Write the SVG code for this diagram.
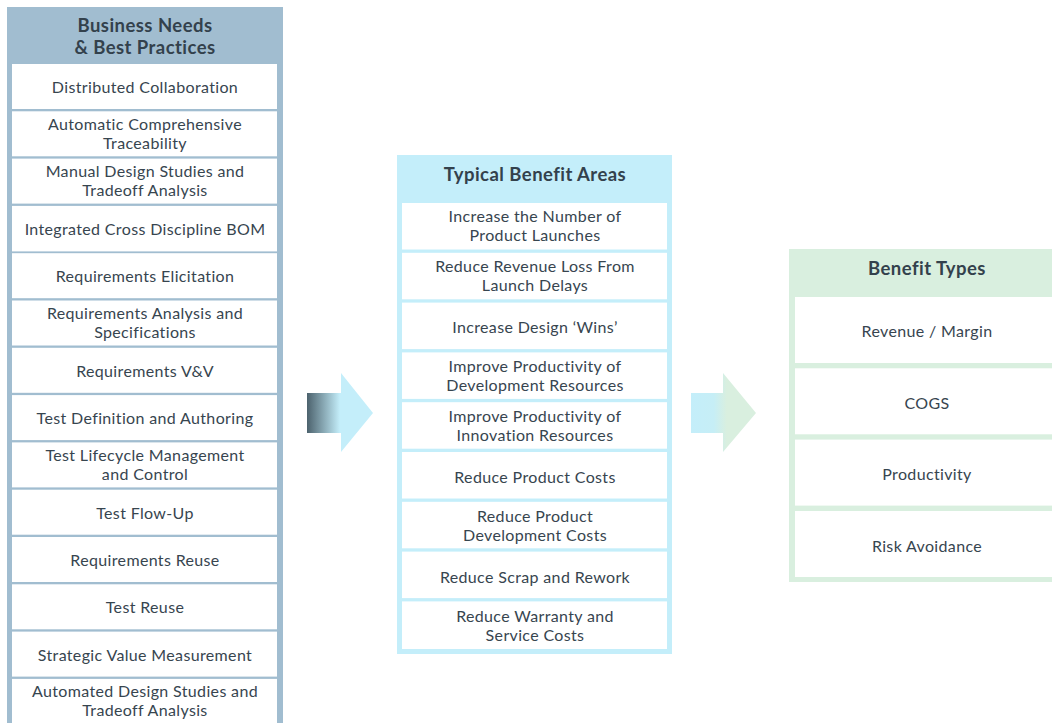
<svg xmlns="http://www.w3.org/2000/svg" width="1052" height="723" viewBox="0 0 1052 723">
<style>
.t{font-family:Lato,"Open Sans","Liberation Sans",sans-serif;font-size:16px;letter-spacing:0.35px;fill:#37454f;text-anchor:middle}
.h{font-family:Lato,"Open Sans","Liberation Sans",sans-serif;font-size:18.5px;letter-spacing:0.45px;font-weight:bold;fill:#33414c;text-anchor:middle}
.b{fill:#ffffff}
</style>
<defs>
<linearGradient id="g1" x1="307" y1="0" x2="373" y2="0" gradientUnits="userSpaceOnUse">
<stop offset="0" stop-color="#4c626d"/>
<stop offset="0.5" stop-color="#c4eefa"/>
<stop offset="1" stop-color="#c4eefa"/>
</linearGradient>
<linearGradient id="g2" x1="691" y1="0" x2="756" y2="0" gradientUnits="userSpaceOnUse">
<stop offset="0" stop-color="#c4eefa"/>
<stop offset="0.35" stop-color="#c6eef6"/>
<stop offset="0.55" stop-color="#d9efdf"/>
<stop offset="1" stop-color="#d9efdf"/>
</linearGradient>
</defs>
<rect width="1052" height="723" fill="#ffffff"/>
<g id="connectors">
<path d="M307,393 H341 V373 L373,413 L341,452 V433 H307 Z" fill="url(#g1)"/>
<path d="M691,393 H723 V373 L756,413 L723,452 V433 H691 Z" fill="url(#g2)"/>
</g>
<g id="business-needs">
<rect x="7" y="7" width="276" height="730" fill="#a1bdd0"/>
<text class="h" x="145" y="31.5">Business Needs</text>
<text class="h" x="145" y="54">&amp; Best Practices</text>
<rect class="b" x="12" y="64" width="265" height="45"/>
<text class="t" x="145" y="92.5">Distributed Collaboration</text>
<rect class="b" x="12" y="111.3" width="265" height="45"/>
<text class="t" x="145" y="130">Automatic Comprehensive</text>
<text class="t" x="145" y="149.4">Traceability</text>
<rect class="b" x="12" y="158.6" width="265" height="45"/>
<text class="t" x="145" y="177">Manual Design Studies and</text>
<text class="t" x="145" y="196.4">Tradeoff Analysis</text>
<rect class="b" x="12" y="205.9" width="265" height="45.5"/>
<text class="t" x="145" y="234.5">Integrated Cross Discipline BOM</text>
<rect class="b" x="12" y="253.2" width="265" height="45"/>
<text class="t" x="145" y="281.5">Requirements Elicitation</text>
<rect class="b" x="12" y="300.5" width="265" height="45"/>
<text class="t" x="145" y="319">Requirements Analysis and</text>
<text class="t" x="145" y="338.4">Specifications</text>
<rect class="b" x="12" y="347.8" width="265" height="45"/>
<text class="t" x="145" y="376.5">Requirements V&amp;V</text>
<rect class="b" x="12" y="395.1" width="265" height="45"/>
<text class="t" x="145" y="423.5">Test Definition and Authoring</text>
<rect class="b" x="12" y="442.4" width="265" height="45"/>
<text class="t" x="145" y="461">Test Lifecycle Management</text>
<text class="t" x="145" y="480.4">and Control</text>
<rect class="b" x="12" y="489.7" width="265" height="45"/>
<text class="t" x="145" y="518.5">Test Flow-Up</text>
<rect class="b" x="12" y="537" width="265" height="45"/>
<text class="t" x="145" y="565.5">Requirements Reuse</text>
<rect class="b" x="12" y="584.3" width="265" height="45"/>
<text class="t" x="145" y="612.5">Test Reuse</text>
<rect class="b" x="12" y="631.6" width="265" height="45"/>
<text class="t" x="145" y="660.5">Strategic Value Measurement</text>
<rect class="b" x="12" y="678.9" width="265" height="50"/>
<text class="t" x="145" y="697">Automated Design Studies and</text>
<text class="t" x="145" y="716.4">Tradeoff Analysis</text>
</g>
<g id="benefit-areas">
<rect x="397" y="155" width="275" height="499" fill="#c4eefa"/>
<text class="h" x="535" y="180.5">Typical Benefit Areas</text>
<rect class="b" x="402" y="203" width="265" height="46.5"/>
<text class="t" x="535" y="222">Increase the Number of</text>
<text class="t" x="535" y="241.4">Product Launches</text>
<rect class="b" x="402" y="252.8" width="265" height="46.5"/>
<text class="t" x="535" y="272">Reduce Revenue Loss From</text>
<text class="t" x="535" y="291.4">Launch Delays</text>
<rect class="b" x="402" y="302.6" width="265" height="46.5"/>
<text class="t" x="535" y="332.5">Increase Design ‘Wins’</text>
<rect class="b" x="402" y="352.4" width="265" height="46.5"/>
<text class="t" x="535" y="372">Improve Productivity of</text>
<text class="t" x="535" y="391.4">Development Resources</text>
<rect class="b" x="402" y="402.2" width="265" height="46.5"/>
<text class="t" x="535" y="421.5">Improve Productivity of</text>
<text class="t" x="535" y="440.9">Innovation Resources</text>
<rect class="b" x="402" y="452" width="265" height="46.5"/>
<text class="t" x="535" y="482.5">Reduce Product Costs</text>
<rect class="b" x="402" y="501.8" width="265" height="46.5"/>
<text class="t" x="535" y="522">Reduce Product</text>
<text class="t" x="535" y="541.4">Development Costs</text>
<rect class="b" x="402" y="551.6" width="265" height="46.5"/>
<text class="t" x="535" y="582.5">Reduce Scrap and Rework</text>
<rect class="b" x="402" y="601.4" width="265" height="47.6"/>
<text class="t" x="535" y="622">Reduce Warranty and</text>
<text class="t" x="535" y="641.4">Service Costs</text>
</g>
<g id="benefit-types">
<rect x="789" y="249" width="280" height="333" fill="#d9efdf"/>
<text class="h" x="927" y="274.5">Benefit Types</text>
<rect class="b" x="795" y="297" width="270" height="66"/>
<text class="t" x="927" y="336.5">Revenue / Margin</text>
<rect class="b" x="795" y="368.3" width="270" height="66"/>
<text class="t" x="927" y="408.5">COGS</text>
<rect class="b" x="795" y="439.6" width="270" height="66"/>
<text class="t" x="927" y="479.5">Productivity</text>
<rect class="b" x="795" y="511" width="270" height="66"/>
<text class="t" x="927" y="551.5">Risk Avoidance</text>
</g>
</svg>
